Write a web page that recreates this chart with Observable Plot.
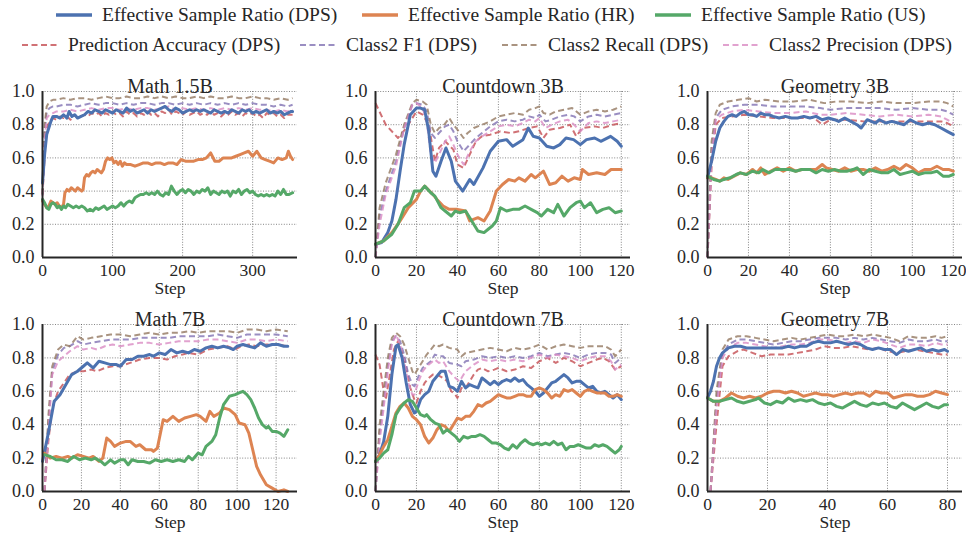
<!DOCTYPE html>
<html><head><meta charset="utf-8">
<script src="https://cdn.jsdelivr.net/npm/d3@7"></script>
<script src="https://cdn.jsdelivr.net/npm/@observablehq/plot@0.6"></script>
</head><body style="margin:0;background:#fff;width:966px;height:533px;overflow:hidden;position:relative;color:#262626">
<div id="legend"></div>
<div id="charts"></div>
<script>
// ---------- labels ----------
const panelTitles = ["Math 1.5B","Countdown 3B","Geometry 3B","Math 7B","Countdown 7B","Geometry 7B"];
const seriesNames = ["Effective Sample Ratio (DPS)","Effective Sample Ratio (HR)","Effective Sample Ratio (US)",
  "Prediction Accuracy (DPS)","Class2 F1 (DPS)","Class2 Recall (DPS)","Class2 Precision (DPS)"];
const xTicks = [[0,100,200,300],[0,20,40,60,80,100,120],[0,20,40,60,80,100,120],
  [0,20,40,60,80,100,120],[0,20,40,60,80,100,120],[0,20,40,60,80]];
const xMax = [364,124.5,124.5,131,124.5,85];
const yTicks = [0,0.2,0.4,0.6,0.8,1.0];

// ---------- Math 1.5B ----------
const m15_dps = [[0,.45],[3,.62],[6,.74],[9,.78],[12,.82],[15,.85],[20,.85],[25,.84],[30,.86],[35,.84],[38,.88],[42,.85],[46,.86],[50,.84],[55,.85],[60,.86],[65,.88],[70,.87],[75,.89],[80,.88],[85,.87],[90,.89],[95,.88],[100,.87],[105,.89],[110,.88],[115,.87],[120,.90],[125,.88],[130,.89],[135,.87],[140,.88],[145,.89],[150,.87],[155,.89],[160,.88],[165,.89],[170,.90],[175,.91],[180,.89],[185,.88],[190,.90],[195,.89],[200,.87],[205,.88],[210,.89],[215,.88],[220,.89],[225,.88],[230,.89],[235,.88],[240,.87],[245,.89],[250,.88],[255,.87],[260,.88],[265,.87],[270,.89],[275,.88],[280,.87],[285,.89],[290,.88],[295,.89],[300,.87],[305,.88],[310,.87],[315,.88],[320,.89],[325,.87],[330,.88],[335,.87],[340,.88],[345,.86],[350,.87],[355,.88],[357,.88]];
const m15_hr = [[0,.34],[3,.32],[6,.30],[9,.31],[12,.34],[15,.33],[18,.32],[21,.33],[24,.31],[27,.30],[30,.32],[32,.39],[35,.41],[38,.40],[41,.42],[44,.41],[47,.40],[50,.42],[53,.41],[56,.40],[58,.41],[60,.48],[63,.50],[66,.49],[69,.51],[72,.52],[75,.51],[78,.53],[81,.52],[84,.51],[87,.53],[90,.58],[93,.60],[96,.59],[99,.60],[102,.57],[105,.58],[108,.56],[111,.58],[114,.55],[117,.57],[120,.56],[126,.56],[132,.55],[138,.56],[144,.57],[150,.57],[156,.56],[162,.57],[168,.57],[174,.56],[180,.57],[186,.57],[192,.56],[198,.59],[204,.58],[210,.58],[216,.58],[222,.59],[228,.59],[234,.60],[240,.63],[246,.58],[252,.58],[258,.60],[264,.60],[270,.60],[276,.61],[282,.62],[288,.63],[294,.64],[300,.61],[306,.64],[312,.60],[318,.59],[324,.58],[330,.57],[336,.60],[342,.59],[348,.60],[351,.64],[354,.61],[357,.59]];
const m15_us = [[0,.35],[3,.33],[6,.30],[9,.29],[12,.32],[15,.33],[18,.32],[21,.30],[24,.31],[27,.29],[30,.31],[33,.30],[36,.32],[40,.31],[44,.30],[48,.31],[52,.30],[56,.31],[60,.30],[64,.28],[68,.29],[72,.28],[76,.30],[80,.29],[84,.30],[88,.31],[92,.29],[96,.30],[100,.31],[104,.30],[108,.31],[112,.33],[116,.31],[120,.33],[124,.34],[128,.33],[132,.36],[136,.37],[140,.38],[144,.38],[148,.39],[152,.38],[156,.39],[160,.38],[164,.40],[168,.38],[172,.37],[176,.39],[180,.38],[184,.43],[188,.40],[192,.38],[196,.40],[200,.41],[204,.39],[208,.41],[212,.40],[216,.38],[220,.40],[224,.39],[228,.41],[232,.40],[236,.42],[240,.38],[244,.40],[248,.39],[252,.38],[256,.40],[260,.39],[264,.40],[268,.37],[272,.40],[276,.39],[280,.41],[284,.38],[288,.40],[292,.41],[296,.39],[300,.40],[304,.38],[308,.37],[312,.38],[316,.37],[320,.38],[324,.37],[328,.38],[332,.37],[336,.40],[340,.38],[344,.41],[348,.38],[352,.38],[357,.39]];
const m15_acc = [[0,.38],[3,.60],[6,.78],[10,.82],[15,.84],[20,.83],[25,.85],[30,.84],[35,.85],[40,.83],[45,.86],[50,.84],[55,.85],[60,.86],[65,.85],[70,.87],[75,.86],[80,.87],[85,.85],[90,.87],[95,.86],[100,.88],[105,.86],[110,.87],[115,.85],[120,.88],[125,.86],[130,.87],[135,.85],[140,.87],[145,.86],[150,.88],[155,.86],[160,.87],[165,.85],[170,.88],[175,.87],[180,.89],[185,.86],[190,.88],[195,.87],[200,.86],[205,.88],[210,.86],[215,.87],[220,.88],[225,.86],[230,.87],[235,.86],[240,.88],[245,.86],[250,.87],[255,.85],[260,.87],[265,.86],[270,.88],[275,.86],[280,.87],[285,.85],[290,.87],[295,.86],[300,.87],[305,.85],[310,.86],[315,.84],[320,.87],[325,.86],[330,.87],[335,.85],[340,.86],[345,.84],[350,.86],[357,.86]];
const m15_f1 = [[0,.38],[3,.75],[6,.88],[10,.90],[15,.91],[20,.91],[30,.92],[40,.92],[50,.91],[60,.92],[70,.93],[80,.92],[90,.93],[100,.93],[110,.92],[120,.93],[130,.92],[140,.93],[150,.93],[160,.92],[170,.93],[180,.93],[190,.92],[200,.93],[210,.92],[220,.93],[230,.92],[240,.93],[250,.92],[260,.93],[270,.92],[280,.93],[290,.92],[300,.93],[310,.92],[320,.92],[330,.91],[340,.92],[350,.91],[357,.92]];
const m15_rec = [[0,.38],[3,.80],[6,.91],[10,.94],[15,.95],[20,.95],[30,.96],[40,.95],[50,.96],[60,.96],[70,.95],[80,.96],[90,.97],[100,.96],[110,.96],[120,.97],[130,.96],[140,.96],[150,.97],[160,.96],[170,.97],[180,.96],[190,.97],[200,.96],[210,.96],[220,.97],[230,.96],[240,.97],[250,.96],[260,.96],[270,.97],[280,.96],[290,.96],[300,.97],[310,.96],[320,.96],[330,.95],[340,.96],[350,.95],[357,.96]];
const m15_prec = [[0,.37],[3,.70],[6,.84],[10,.86],[15,.87],[20,.88],[30,.88],[40,.89],[50,.88],[60,.89],[70,.90],[80,.89],[90,.90],[100,.90],[110,.89],[120,.90],[130,.89],[140,.90],[150,.90],[160,.89],[170,.90],[180,.91],[190,.89],[200,.90],[210,.89],[220,.90],[230,.89],[240,.90],[250,.89],[260,.90],[270,.89],[280,.90],[290,.89],[300,.90],[310,.89],[320,.89],[330,.88],[340,.89],[350,.88],[357,.89]];

// ---------- Countdown 3B ----------
const c3_dps = [[0,.08],[3,.09],[6,.15],[8,.22],[10,.35],[12,.52],[14,.68],[17,.86],[20,.90],[22,.90],[24,.89],[26,.76],[28,.52],[29.5,.49],[32,.58],[34.4,.66],[37,.58],[39,.46],[42.6,.40],[46,.47],[48,.44],[52.5,.54],[56,.64],[60,.70],[64,.71],[67,.67],[72,.71],[74.6,.78],[77,.73],[80,.72],[83.6,.67],[87,.66],[90,.68],[93,.72],[96.7,.71],[100,.68],[103,.71],[107,.72],[110,.70],[114.8,.73],[118,.70],[120,.67]];
const c3_hr = [[0,.08],[4,.10],[8,.15],[12,.22],[16,.30],[20,.35],[22,.40],[24,.43],[28,.38],[30,.35],[33,.31],[36,.29],[40,.29],[44,.28],[46,.22],[50,.24],[53,.22],[56,.28],[59,.40],[62,.44],[65,.47],[68,.46],[70,.48],[73,.46],[76,.50],[78,.48],[82,.52],[85,.44],[88,.45],[91,.49],[94,.46],[97,.48],[100,.47],[101,.53],[104,.50],[108,.51],[112,.50],[115,.53],[118,.53],[120,.53]];
const c3_us = [[0,.08],[4,.10],[8,.14],[11,.20],[14,.30],[17,.33],[19,.40],[22,.40],[24,.43],[27,.39],[29,.37],[32,.30],[34,.28],[37,.25],[39,.28],[41,.27],[44,.28],[47,.22],[50,.16],[53,.15],[55,.17],[57,.19],[59,.22],[61,.30],[64,.28],[67,.29],[70,.29],[73,.31],[76,.29],[79,.27],[81,.25],[84,.29],[87,.27],[89,.32],[92,.25],[95,.30],[98,.33],[100,.34],[102,.30],[105,.33],[108,.27],[111,.29],[114,.30],[117,.27],[120,.28]];
const c3_acc = [[0,.93],[5,.80],[11,.72],[15,.78],[20,.88],[23,.86],[26,.80],[29,.58],[31,.66],[34,.70],[38,.65],[40,.56],[43,.54],[46,.62],[49,.70],[52,.73],[56,.74],[61,.76],[66,.75],[70,.76],[75,.78],[79,.79],[82,.72],[85,.77],[90,.78],[95,.80],[98,.73],[101,.78],[107,.79],[111,.78],[116,.80],[120,.81]];
const c3_f1 = [[0,0],[2,.25],[5,.40],[10,.58],[14,.78],[18,.92],[20,.93],[23,.92],[25,.88],[27,.75],[29,.72],[31,.75],[34,.79],[36,.80],[38,.76],[40,.70],[43,.64],[46,.68],[49,.72],[52,.75],[56,.79],[60,.82],[64,.83],[68,.82],[72,.83],[75,.85],[78,.84],[80,.86],[83,.82],[86,.83],[90,.85],[94,.86],[97,.85],[100,.82],[104,.85],[108,.86],[112,.85],[116,.86],[120,.87]];
const c3_rec = [[0,0],[2,.30],[5,.45],[10,.62],[14,.80],[18,.93],[20,.95],[23,.94],[25,.92],[27,.80],[29,.75],[31,.78],[33,.79],[36,.84],[38,.80],[40,.77],[43,.72],[45,.75],[48,.78],[52,.80],[56,.82],[60,.85],[64,.86],[68,.87],[72,.86],[75,.89],[78,.90],[80,.91],[82,.87],[85,.86],[88,.88],[92,.89],[96,.90],[100,.86],[104,.88],[108,.89],[112,.88],[116,.89],[120,.91]];
const c3_prec = [[0,0],[2,.20],[5,.38],[10,.55],[14,.78],[18,.92],[20,.93],[23,.90],[25,.82],[27,.62],[29,.57],[31,.62],[34,.70],[36,.73],[38,.68],[40,.62],[43,.56],[46,.64],[49,.70],[52,.73],[56,.76],[60,.79],[64,.80],[68,.79],[72,.81],[75,.83],[78,.82],[80,.84],[83,.78],[86,.80],[90,.82],[94,.83],[97,.80],[100,.76],[104,.81],[108,.82],[112,.81],[116,.82],[120,.83]];

// ---------- Geometry 3B ----------
const g3_dps = [[0,.48],[2,.58],[4,.70],[6,.78],[8,.82],[10,.85],[12,.86],[14,.85],[16,.87],[18,.88],[20,.86],[22,.86],[24,.85],[26,.87],[28,.86],[30,.86],[32,.85],[35,.84],[38,.85],[41,.84],[44,.84],[47,.85],[50,.84],[53,.85],[56,.83],[59,.84],[62,.83],[64,.82],[67,.84],[70,.82],[73,.80],[75,.78],[78,.83],[80,.82],[82,.81],[84,.83],[87,.81],[90,.82],[93,.81],[96,.80],[99,.83],[102,.81],[105,.80],[108,.81],[111,.80],[114,.78],[117,.76],[120,.74]];
const g3_hr = [[0,.48],[2,.48],[4,.47],[6,.46],[8,.48],[10,.47],[13,.49],[16,.51],[19,.50],[22,.53],[24,.51],[26,.54],[28,.50],[31,.52],[34,.54],[37,.52],[40,.54],[43,.52],[46,.53],[50,.53],[53,.53],[56,.56],[58,.54],[61,.53],[64,.52],[67,.54],[70,.52],[73,.53],[76,.53],[79,.52],[82,.54],[85,.52],[88,.53],[91,.55],[94,.53],[97,.56],[100,.54],[103,.51],[106,.53],[109,.53],[112,.55],[115,.53],[118,.53],[120,.52]];
const g3_us = [[0,.49],[3,.47],[6,.46],[8,.47],[11,.48],[14,.50],[16,.51],[19,.50],[22,.52],[25,.51],[27,.53],[30,.51],[33,.53],[36,.53],[40,.53],[43,.52],[46,.53],[50,.53],[53,.51],[56,.53],[59,.52],[62,.53],[65,.52],[68,.52],[71,.53],[73,.54],[76,.50],[79,.53],[82,.52],[85,.51],[88,.51],[91,.53],[94,.50],[97,.51],[100,.52],[103,.50],[106,.51],[109,.51],[112,.52],[115,.49],[118,.49],[120,.50]];
const g3_acc = [[0,0],[2,.55],[4,.80],[7,.84],[12,.85],[18,.86],[25,.85],[32,.84],[40,.84],[48,.84],[52,.84],[56,.80],[60,.83],[68,.83],[76,.82],[84,.82],[92,.82],[100,.82],[108,.82],[114,.82],[117,.81],[120,.79]];
const g3_f1 = [[0,0],[2,.65],[4,.84],[7,.89],[12,.91],[18,.92],[25,.92],[32,.91],[40,.91],[48,.91],[55,.90],[60,.89],[68,.90],[76,.90],[84,.90],[92,.89],[100,.90],[108,.89],[114,.89],[117,.88],[120,.86]];
const g3_rec = [[0,0],[2,.70],[4,.87],[6,.92],[10,.94],[15,.95],[20,.96],[24,.94],[28,.95],[35,.94],[42,.94],[50,.95],[57,.93],[63,.94],[70,.94],[78,.93],[85,.94],[92,.93],[100,.93],[108,.94],[114,.94],[117,.93],[120,.91]];
const g3_prec = [[0,0],[2,.60],[4,.83],[7,.86],[12,.88],[18,.89],[25,.88],[32,.87],[40,.87],[48,.88],[55,.86],[60,.86],[68,.87],[76,.86],[84,.85],[92,.86],[100,.85],[108,.86],[114,.85],[117,.83],[120,.81]];

// ---------- Math 7B ----------
const m7_dps = [[0,.18],[3,.35],[6,.54],[9,.58],[11,.62],[15,.70],[18,.72],[21,.75],[23,.77],[26,.74],[29,.78],[32,.77],[35,.76],[38,.76],[40,.75],[43,.79],[46,.79],[49,.81],[52,.81],[55,.82],[57,.81],[60,.83],[63,.82],[66,.85],[69,.83],[72,.84],[75,.83],[78,.85],[81,.84],[84,.86],[87,.87],[90,.86],[93,.87],[96,.86],[98,.85],[100,.87],[103,.88],[106,.87],[109,.86],[112,.89],[115,.87],[118,.88],[121,.88],[124,.87],[126,.87]];
const m7_hr = [[1,.23],[4,.20],[7,.21],[10,.20],[13,.21],[15,.20],[18,.22],[21,.21],[24,.20],[26,.21],[29,.18],[31,.20],[33,.32],[35,.30],[37,.27],[40,.29],[43,.30],[45,.30],[48,.27],[50,.28],[53,.25],[56,.25],[57,.24],[59,.26],[62,.43],[64,.42],[67,.45],[70,.42],[73,.44],[76,.45],[79,.46],[81,.45],[84,.42],[86,.48],[88,.45],[91,.47],[93,.50],[96,.49],[99,.46],[101,.41],[104,.40],[106,.35],[108,.25],[110,.15],[112,.10],[115,.04],[118,.02],[121,0],[124,.01],[126,0]];
const m7_us = [[1,.22],[4,.21],[7,.19],[10,.19],[13,.18],[16,.21],[19,.19],[22,.20],[25,.19],[27,.20],[30,.18],[32,.16],[35,.19],[37,.17],[40,.19],[42,.19],[44,.16],[46,.19],[49,.18],[52,.18],[55,.17],[58,.19],[61,.18],[64,.19],[67,.18],[70,.19],[73,.18],[75,.21],[77,.19],[80,.23],[82,.22],[84,.27],[87,.30],[89,.34],[91,.44],[93,.52],[96,.57],[99,.58],[101,.59],[103,.60],[105,.58],[107,.55],[109,.50],[111,.44],[113,.40],[115,.38],[116,.39],[118,.36],[120,.36],[122,.35],[124,.33],[126,.37]];
const m7_acc = [[1,0],[3,.30],[5,.50],[8,.60],[11,.65],[14,.70],[18,.72],[21,.72],[25,.73],[28,.72],[32,.74],[36,.75],[40,.75],[45,.77],[50,.79],[55,.80],[60,.80],[64,.79],[68,.81],[72,.82],[75,.83],[80,.82],[85,.85],[90,.86],[95,.87],[99,.85],[102,.87],[106,.88],[110,.87],[115,.88],[120,.88],[126,.87]];
const m7_f1 = [[1,0],[3,.40],[5,.72],[8,.82],[11,.86],[14,.87],[18,.90],[21,.88],[25,.89],[30,.90],[35,.91],[40,.91],[45,.91],[50,.92],[55,.92],[60,.92],[65,.92],[70,.93],[75,.93],[80,.93],[85,.93],[90,.94],[95,.93],[100,.92],[105,.94],[110,.94],[115,.94],[120,.94],[126,.93]];
const m7_rec = [[1,0],[3,.45],[5,.75],[8,.85],[11,.88],[14,.87],[18,.93],[21,.91],[25,.92],[30,.93],[35,.94],[40,.94],[45,.93],[50,.94],[55,.95],[60,.94],[65,.95],[70,.95],[75,.96],[80,.95],[85,.96],[90,.96],[95,.96],[100,.95],[105,.97],[110,.97],[115,.96],[120,.97],[126,.96]];
const m7_prec = [[1,0],[3,.35],[5,.70],[8,.78],[11,.81],[14,.84],[18,.87],[21,.85],[25,.86],[28,.85],[32,.87],[36,.88],[40,.87],[45,.88],[50,.89],[55,.89],[60,.88],[65,.89],[70,.90],[75,.90],[80,.90],[85,.91],[90,.91],[95,.90],[100,.89],[105,.91],[110,.91],[115,.90],[120,.91],[126,.90]];

// ---------- Countdown 7B ----------
const c7_dps = [[0,.18],[2,.22],[4,.30],[6,.45],[8,.70],[10,.87],[11,.88],[13,.80],[15,.65],[17,.52],[19,.47],[20,.48],[22,.55],[24,.58],[26,.60],[28,.66],[30,.69],[32,.72],[34,.72],[36,.63],[38,.62],[40,.60],[42,.66],[44,.62],[46,.64],[48,.63],[50,.62],[52,.68],[54,.66],[56,.64],[58,.66],[60,.64],[62,.66],[64,.67],[66,.66],[68,.68],[70,.66],[72,.67],[74,.64],[76,.62],[78,.60],[80,.57],[82,.59],[84,.62],[86,.65],[88,.66],[90,.68],[92,.70],[94,.68],[96,.65],[98,.66],[100,.66],[102,.64],[104,.62],[106,.63],[108,.60],[110,.59],[112,.60],[114,.58],[116,.56],[118,.58],[120,.55]];
const c7_hr = [[0,.18],[2,.22],[4,.27],[6,.31],[8,.39],[10,.47],[12,.51],[14,.53],[16,.50],[18,.45],[20,.43],[22,.40],[24,.33],[26,.29],[28,.32],[30,.37],[32,.40],[34,.39],[36,.36],[38,.40],[40,.44],[42,.43],[44,.45],[46,.45],[48,.48],[50,.52],[52,.51],[54,.53],[56,.54],[58,.56],[60,.58],[62,.57],[64,.56],[66,.56],[68,.57],[70,.58],[72,.58],[74,.57],[76,.57],[78,.61],[80,.62],[82,.61],[84,.59],[86,.56],[88,.58],[90,.57],[92,.61],[94,.60],[96,.61],[98,.59],[100,.57],[102,.60],[104,.61],[106,.60],[108,.59],[110,.59],[112,.59],[114,.57],[116,.57],[118,.58],[120,.57]];
const c7_us = [[0,.18],[2,.20],[4,.23],[6,.25],[8,.34],[10,.46],[12,.50],[14,.53],[16,.55],[18,.54],[20,.50],[22,.46],[24,.45],[25,.46],[27,.43],[29,.41],[31,.40],[33,.35],[35,.37],[37,.35],[39,.33],[41,.30],[43,.33],[45,.32],[47,.33],[49,.33],[51,.34],[53,.33],[55,.31],[57,.29],[59,.29],[61,.28],[63,.26],[65,.25],[67,.28],[69,.26],[71,.29],[73,.31],[75,.29],[77,.28],[79,.29],[81,.28],[83,.29],[85,.28],[87,.30],[89,.28],[91,.29],[93,.25],[95,.27],[97,.27],[99,.28],[101,.27],[103,.26],[105,.26],[107,.28],[109,.27],[111,.28],[113,.27],[115,.25],[117,.23],[119,.25],[120,.27]];
const c7_acc = [[0,.82],[2,.76],[4,.60],[5,.55],[7,.70],[9,.85],[11,.90],[14,.80],[17,.62],[19,.55],[20,.53],[22,.60],[24,.65],[26,.68],[28,.70],[30,.70],[33,.68],[35,.66],[37,.60],[39,.58],[40,.56],[42,.62],[44,.62],[46,.66],[48,.70],[50,.73],[52,.74],[55,.72],[58,.73],[60,.74],[64,.72],[68,.73],[72,.75],[76,.74],[80,.78],[84,.80],[88,.77],[92,.80],[96,.78],[100,.75],[104,.77],[108,.79],[111,.80],[114,.78],[117,.73],[120,.75]];
const c7_f1 = [[0,0],[2,.35],[4,.55],[6,.75],[8,.90],[10,.93],[12,.90],[14,.82],[16,.70],[18,.64],[19,.63],[21,.69],[23,.74],[25,.76],[27,.78],[29,.82],[31,.81],[33,.81],[36,.77],[40,.76],[42,.75],[44,.78],[48,.79],[52,.81],[56,.80],[60,.81],[64,.80],[68,.81],[72,.80],[76,.81],[80,.83],[84,.81],[88,.82],[92,.83],[96,.82],[100,.80],[104,.82],[108,.83],[112,.83],[115,.82],[117,.77],[120,.80]];
const c7_rec = [[0,0],[2,.40],[4,.60],[6,.80],[8,.92],[10,.95],[12,.93],[14,.88],[16,.80],[18,.72],[19,.70],[21,.74],[23,.78],[25,.82],[27,.85],[29,.88],[31,.87],[33,.88],[36,.86],[40,.85],[42,.81],[44,.83],[48,.84],[52,.85],[56,.86],[60,.85],[64,.84],[68,.86],[72,.85],[76,.86],[80,.88],[84,.85],[88,.87],[92,.88],[96,.87],[100,.86],[104,.87],[108,.87],[112,.87],[115,.85],[117,.81],[120,.85]];
const c7_prec = [[0,0],[2,.30],[4,.50],[6,.72],[8,.88],[10,.94],[12,.88],[14,.78],[16,.65],[18,.58],[19,.58],[21,.66],[23,.72],[25,.75],[27,.77],[29,.79],[31,.77],[33,.78],[36,.72],[39,.68],[41,.66],[44,.72],[48,.76],[52,.79],[56,.78],[60,.79],[64,.78],[68,.79],[72,.78],[76,.80],[80,.82],[84,.80],[88,.82],[92,.81],[96,.80],[100,.78],[104,.80],[108,.81],[112,.81],[115,.78],[117,.73],[120,.76]];

// ---------- Geometry 7B ----------
const g7_dps = [[0,.56],[1,.60],[2,.66],[3,.75],[4,.80],[5,.83],[7,.86],[9,.87],[11,.87],[13,.86],[15,.86],[17,.86],[19,.86],[21,.86],[23,.86],[25,.86],[27,.87],[29,.86],[31,.87],[33,.87],[35,.89],[37,.90],[39,.89],[41,.89],[43,.90],[45,.89],[47,.88],[49,.89],[51,.88],[53,.86],[55,.85],[57,.86],[59,.85],[61,.85],[63,.82],[65,.85],[67,.84],[69,.85],[71,.86],[73,.84],[75,.85],[77,.84],[79,.85],[80,.84]];
const g7_hr = [[0,.56],[2,.54],[4,.54],[6,.56],[8,.59],[10,.57],[12,.56],[14,.57],[16,.56],[18,.57],[20,.59],[22,.60],[24,.60],[26,.59],[28,.60],[30,.59],[32,.57],[34,.58],[36,.59],[38,.58],[40,.58],[42,.57],[44,.58],[46,.59],[48,.58],[50,.59],[52,.59],[54,.57],[56,.60],[58,.59],[60,.59],[62,.56],[64,.57],[66,.58],[68,.58],[70,.57],[72,.57],[74,.58],[76,.60],[78,.59],[80,.58]];
const g7_us = [[0,.56],[2,.54],[4,.54],[6,.55],[8,.56],[10,.54],[12,.53],[14,.54],[16,.55],[17,.56],[19,.53],[21,.52],[23,.54],[25,.53],[27,.56],[29,.54],[31,.55],[33,.54],[35,.55],[37,.53],[39,.52],[41,.53],[43,.51],[45,.50],[47,.52],[49,.54],[51,.52],[53,.51],[55,.53],[57,.52],[59,.53],[61,.51],[63,.50],[65,.53],[67,.51],[69,.49],[71,.51],[73,.53],[75,.51],[77,.50],[79,.52],[80,.52]];
const g7_acc = [[1,0],[3,.40],[5,.75],[7,.81],[10,.84],[12,.85],[15,.83],[18,.81],[21,.82],[24,.82],[27,.82],[30,.83],[33,.84],[36,.85],[39,.87],[42,.86],[45,.86],[48,.87],[51,.86],[54,.85],[57,.86],[60,.84],[63,.83],[66,.84],[69,.85],[72,.84],[75,.83],[78,.82],[80,.82]];
const g7_f1 = [[1,0],[3,.55],[5,.82],[7,.88],[10,.91],[13,.91],[16,.90],[19,.89],[22,.88],[25,.89],[28,.90],[31,.90],[34,.91],[37,.92],[40,.92],[43,.92],[46,.91],[49,.92],[52,.91],[55,.92],[58,.91],[61,.90],[64,.89],[67,.91],[70,.90],[73,.90],[76,.91],[78,.90],[80,.90]];
const g7_rec = [[1,0],[3,.60],[5,.85],[7,.91],[10,.93],[13,.93],[16,.92],[19,.91],[22,.90],[25,.91],[28,.92],[31,.91],[34,.92],[37,.93],[40,.94],[43,.93],[46,.93],[49,.94],[52,.93],[55,.94],[58,.93],[61,.92],[64,.90],[67,.93],[70,.92],[73,.92],[76,.93],[78,.92],[80,.93]];
const g7_prec = [[1,0],[3,.50],[5,.80],[7,.86],[10,.89],[13,.89],[16,.88],[19,.87],[22,.86],[25,.87],[28,.88],[31,.88],[34,.89],[37,.91],[40,.91],[43,.90],[46,.89],[49,.90],[52,.89],[55,.91],[58,.90],[61,.88],[64,.86],[67,.88],[70,.88],[73,.87],[76,.89],[78,.88],[80,.88]];

const panelSeries = [
  [m15_dps,m15_hr,m15_us,m15_acc,m15_f1,m15_rec,m15_prec],
  [c3_dps,c3_hr,c3_us,c3_acc,c3_f1,c3_rec,c3_prec],
  [g3_dps,g3_hr,g3_us,g3_acc,g3_f1,g3_rec,g3_prec],
  [m7_dps,m7_hr,m7_us,m7_acc,m7_f1,m7_rec,m7_prec],
  [c7_dps,c7_hr,c7_us,c7_acc,c7_f1,c7_rec,c7_prec],
  [g7_dps,g7_hr,g7_us,g7_acc,g7_f1,g7_rec,g7_prec]
];

// ---------- styling ----------
const colors = ["#4C72B0","#DD8452","#55A868","#C44E52","#8172B3","#937860","#DA8BC3"];
const dashed = [false,false,false,true,true,true,true];
const ink = "#262626";
const font = '"Liberation Serif", monospace';

// legend
const legendItems = [
  {i:0,x:56,y:15},{i:1,x:362,y:15},{i:2,x:655,y:15},
  {i:3,x:22,y:45},{i:4,x:300,y:45},{i:5,x:502,y:45},{i:6,x:723,y:45}
];
const legend = document.getElementById("legend");
for (const it of legendItems) {
  const d = document.createElement("div");
  d.style.position = "absolute";
  d.style.left = it.x + "px";
  d.style.top = (it.y - 10) + "px";
  d.style.fontFamily = font;
  d.style.fontSize = "19.5px";
  d.style.lineHeight = "20px";
  d.style.whiteSpace = "nowrap";
  d.style.display = "flex";
  d.style.alignItems = "center";
  const dash = dashed[it.i];
  d.innerHTML = `<svg width="36" height="20" style="margin-right:10px"><line x1="0" x2="36" y1="10" y2="10" stroke="${colors[it.i]}" stroke-width="${dash?2:3.5}" ${dash?'stroke-dasharray="6,3.5" stroke-opacity="0.8"':''}/></svg>`;
  const span = document.createElement("span");
  span.style.fontFamily = font;
  span.textContent = seriesNames[it.i];
  d.appendChild(span);
  legend.appendChild(d);
}

// panels
const colLeft = [0,333,665];
const rowTop = [62,295];
const rowPlotH = [166,167];
const charts = document.getElementById("charts");
panelTitles.forEach((title, p) => {
  const r = Math.floor(p/3), c = p%3;
  const rows = [];
  panelSeries[p].forEach((arr, s) => arr.forEach(([step, value]) => rows.push({step, value, s})));
  const order = [3,4,5,6,0,1,2];
  const lineMarks = order.map(s => Plot.line(rows.filter(d => d.s === s), {
    x: "step", y: "value", stroke: colors[s],
    strokeWidth: dashed[s] ? 2 : 3,
    strokeDasharray: dashed[s] ? "6,3.5" : null,
    strokeOpacity: dashed[s] ? 0.8 : 1,
    strokeLinejoin: "round", strokeLinecap: dashed[s] ? "butt" : "round"
  }));
  const chart = Plot.plot({
    width: 301, height: 29 + rowPlotH[r] + 45,
    marginLeft: 42, marginRight: 4, marginTop: 29, marginBottom: 45,
    style: {fontSize: "17.5px", color: ink, background: "transparent", overflow: "visible"},
    x: {domain: [0, xMax[p]], label: null},
    y: {domain: [0, 1], label: null},
    marks: [
      Plot.gridY(yTicks.filter(t => t > 0), {stroke: "#555", strokeOpacity: 0.9, strokeWidth: 0.8, strokeDasharray: "1,1.6"}),
      Plot.gridX(xTicks[p].filter(t => t > 0), {stroke: "#555", strokeOpacity: 0.9, strokeWidth: 0.8, strokeDasharray: "1,1.6"}),
      Plot.axisX(xTicks[p], {tickSize: 0, tickPadding: 6, label: null, fontSize: 17.5, tickFormat: d => String(d)}),
      Plot.axisY(yTicks, {tickSize: 0, tickPadding: 8, label: null, fontSize: 18, tickFormat: d => d.toFixed(1)}),
      ...lineMarks,
      Plot.ruleX([0], {stroke: ink, strokeWidth: 2}),
      Plot.ruleY([0], {stroke: ink, strokeWidth: 2}),
      Plot.text([title], {text: d => d, frameAnchor: "top", dy: -13, fontSize: 20, fill: ink}),
      Plot.text(["Step"], {text: d => d, frameAnchor: "bottom", dy: 36.5, fontSize: 17.5, fill: ink})
    ]
  });
  chart.style.fontFamily = font;
  chart.setAttribute("font-family", "Liberation Serif");
  chart.querySelectorAll("text, g").forEach(el => { if (el.hasAttribute("font-family")) el.setAttribute("font-family", "Liberation Serif"); });
  const wrap = document.createElement("div");
  wrap.style.position = "absolute";
  wrap.style.left = colLeft[c] + "px";
  wrap.style.top = rowTop[r] + "px";
  wrap.appendChild(chart);
  charts.appendChild(wrap);
});
</script>
</body></html>
